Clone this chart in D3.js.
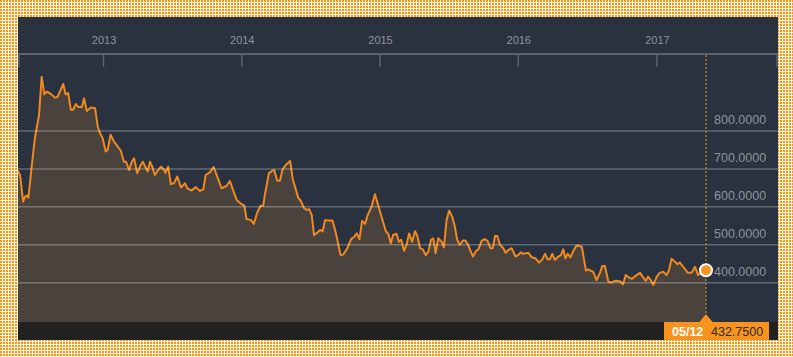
<!DOCTYPE html>
<html><head><meta charset="utf-8">
<script src="https://cdn.jsdelivr.net/npm/d3@7"></script>
<style>html,body{margin:0;padding:0;background:#fff;}svg{display:block;}</style>
</head><body><svg id="c" width="793" height="357"></svg>
<script>
const dates = ["2012-05-21","2012-05-27","2012-06-04","2012-06-09","2012-06-13","2012-06-18","2012-06-27","2012-07-05","2012-07-16","2012-07-23","2012-07-30","2012-08-06","2012-08-17","2012-08-27","2012-09-03","2012-09-18","2012-09-24","2012-10-01","2012-10-08","2012-10-14","2012-10-21","2012-10-28","2012-11-06","2012-11-12","2012-11-19","2012-11-30","2012-12-11","2012-12-18","2012-12-24","2012-12-31",
"2013-01-08","2013-01-13","2013-01-21","2013-01-30","2013-02-09","2013-02-17","2013-02-25","2013-03-03","2013-03-11","2013-03-18","2013-03-24","2013-04-01","2013-04-11","2013-04-16","2013-04-24","2013-04-29","2013-05-05","2013-05-11","2013-05-18","2013-05-25","2013-06-03","2013-06-10","2013-06-15","2013-06-22","2013-06-29","2013-07-07","2013-07-16","2013-07-26","2013-08-05","2013-08-12","2013-08-23","2013-09-03","2013-09-14","2013-09-23","2013-09-29","2013-10-10","2013-10-20","2013-10-28","2013-11-10","2013-11-23","2013-12-02","2013-12-11","2013-12-20",
"2014-01-02","2014-01-09","2014-01-15","2014-01-27","2014-02-03","2014-02-13","2014-02-21","2014-02-28","2014-03-05","2014-03-15","2014-03-22","2014-03-29","2014-04-06","2014-04-13","2014-04-20","2014-04-29","2014-05-10","2014-05-17","2014-05-25","2014-05-31","2014-06-07","2014-06-16","2014-06-23","2014-06-29","2014-07-06","2014-07-12","2014-07-21","2014-07-28","2014-08-04","2014-08-10","2014-08-19","2014-08-30","2014-09-08","2014-09-20","2014-09-27","2014-10-08","2014-10-18","2014-10-26","2014-11-02","2014-11-09","2014-11-16","2014-11-24","2014-11-30","2014-12-11","2014-12-20","2014-12-29",
"2015-01-07","2015-01-18","2015-01-24","2015-01-31","2015-02-06","2015-02-15","2015-02-21","2015-02-27","2015-03-07","2015-03-14","2015-03-20","2015-03-28","2015-04-05","2015-04-11","2015-04-18","2015-04-25","2015-05-03","2015-05-10","2015-05-17","2015-05-23","2015-05-29","2015-06-05","2015-06-14","2015-06-20","2015-06-27","2015-07-04","2015-07-12","2015-07-19","2015-07-25","2015-08-01","2015-08-09","2015-08-16","2015-08-23","2015-08-30","2015-09-05","2015-09-13","2015-09-19","2015-09-28","2015-10-06","2015-10-13","2015-10-21","2015-10-27","2015-11-02","2015-11-08","2015-11-15","2015-11-24","2015-11-30","2015-12-07","2015-12-16","2015-12-26",
"2016-01-02","2016-01-09","2016-01-15","2016-01-29","2016-02-07","2016-02-17","2016-02-26","2016-03-06","2016-03-13","2016-03-20","2016-03-26","2016-04-01","2016-04-08","2016-04-17","2016-04-24","2016-04-30","2016-05-06","2016-05-12","2016-05-19","2016-05-26","2016-06-04","2016-06-18","2016-06-29","2016-07-05","2016-07-12","2016-07-18","2016-07-27","2016-08-05","2016-08-11","2016-08-18","2016-08-27","2016-09-03","2016-09-14","2016-09-27","2016-10-05","2016-10-12","2016-10-20","2016-10-28","2016-11-07","2016-11-19","2016-11-27","2016-12-04","2016-12-10","2016-12-17","2016-12-24",
"2017-01-02","2017-01-10","2017-01-19","2017-01-28","2017-02-03","2017-02-10","2017-02-19","2017-02-26","2017-03-04","2017-03-13","2017-03-25","2017-04-04","2017-04-13","2017-04-21","2017-04-30","2017-05-12"];

const values = [695,684,614,627,630,624,710,781,842,943,897,904,897,888,890,924,897,900,856,856,871,863,863,886,853,862,860,812,794,781,
746,750,790,772,759,748,719,719,697,719,728,689,711,719,703,693,719,706,684,695,706,699,690,706,660,662,680,651,662,649,643,652,642,647,684,691,705,684,649,655,668,642,618,
607,603,568,565,555,587,603,603,636,689,694,697,669,669,699,711,721,673,646,625,616,596,592,594,579,526,532,539,535,565,564,564,530,473,474,491,515,521,530,515,563,555,576,601,633,602,
572,535,529,504,526,529,508,513,484,502,530,508,536,523,491,488,473,482,513,517,478,517,508,493,565,590,574,548,513,500,511,511,500,482,469,484,488,511,515,510,491,491,523,523,500,491,479,486,491,469,
473,480,476,479,467,464,453,462,476,462,462,476,460,469,473,488,464,476,467,482,498,495,432,435,431,429,407,426,444,444,403,400,405,404,396,420,414,410,418,426,414,405,416,407,394,
416,426,429,420,432,463,455,449,453,442,426,426,442,420,429,432.75];

const yTicks = [400, 500, 600, 700, 800];
const xDomain = ["2012-05-12", "2017-05-12"];

const parse = d3.utcParse("%Y-%m-%d");
const data = dates.map((d, i) => ({date: parse(d), value: values[i]}));

const svg = d3.select("#c");
const W = 793, H = 357;
const P = {l: 18, r: 778, t: 17, b: 340};
const axisY = 54, plotBottom = 322;

// background dotted pattern
const defs = svg.append("defs");
const pat = defs.append("pattern").attr("id", "dots").attr("width", 3).attr("height", 3).attr("patternUnits", "userSpaceOnUse");
pat.append("rect").attr("width", 3).attr("height", 3).attr("fill", "#fff6dc");
pat.append("rect").attr("width", 2).attr("height", 2).attr("fill", "#f7961f");
svg.append("rect").attr("width", W).attr("height", H).attr("fill", "url(#dots)");

defs.append("clipPath").attr("id", "clip").append("rect")
  .attr("x", P.l).attr("y", axisY).attr("width", P.r - P.l).attr("height", plotBottom - axisY);

// panel
svg.append("rect").attr("x", P.l).attr("y", P.t).attr("width", P.r - P.l).attr("height", P.b - P.t).attr("fill", "#29323e");
svg.append("rect").attr("x", P.l).attr("y", plotBottom).attr("width", P.r - P.l).attr("height", P.b - plotBottom).attr("fill", "#222222");

const x = d3.scaleUtc().domain(xDomain.map(parse)).range([14.4, 706]);
const y = d3.scaleLinear().domain([400, 800]).range([282.7, 131]);

const g = svg.append("g").attr("clip-path", "url(#clip)");
const area = d3.area().x(d => x(d.date)).y0(plotBottom).y1(d => y(d.value));
const line = d3.line().x(d => x(d.date)).y(d => y(d.value));

g.append("path").datum(data).attr("d", area).attr("fill", "#4a433d");

// gridlines
svg.append("g").selectAll("line").data(yTicks).join("line")
  .attr("x1", P.l).attr("x2", P.r).attr("y1", d => y(d)).attr("y2", d => y(d))
  .attr("stroke", "rgba(255,255,255,0.27)").attr("stroke-width", 1.5);

g.append("path").datum(data).attr("d", line).attr("fill", "none")
  .attr("stroke", "#f0891f").attr("stroke-width", 2).attr("stroke-linejoin", "round");

// y labels
svg.append("g").selectAll("text").data(yTicks).join("text")
  .attr("x", 714).attr("y", d => y(d) - 7)
  .attr("fill", "#8d949c").attr("font-family", "Liberation Sans, Arial, sans-serif").attr("font-size", 12.5)
  .text(d => d3.format(".4f")(d));

// top axis
const xAxis = d3.axisBottom(x).ticks(d3.utcYear.every(1)).tickSize(13).tickSizeOuter(0).tickFormat("");
const ax = svg.append("g").attr("transform", `translate(0,${axisY})`).call(xAxis);
ax.select(".domain").remove();
ax.selectAll(".tick line").attr("stroke", "#59616b").attr("stroke-width", 1.5);
svg.append("line").attr("x1", P.l).attr("x2", P.r).attr("y1", axisY).attr("y2", axisY).attr("stroke", "#727477").attr("stroke-width", 1.5);
svg.selectAll(".edge").data([P.l + 1, P.r - 1]).join("line").attr("class", "edge")
  .attr("x1", d => d).attr("x2", d => d).attr("y1", axisY).attr("y2", axisY + 13)
  .attr("stroke", "#59616b").attr("stroke-width", 1.5);
svg.append("g").selectAll("text").data(x.ticks(d3.utcYear.every(1))).join("text")
  .attr("x", d => x(d) + 1).attr("y", 44).attr("text-anchor", "middle")
  .attr("fill", "#8d949c").attr("font-family", "Liberation Sans, Arial, sans-serif").attr("font-size", 11)
  .text(d3.utcFormat("%Y"));

// current marker
const last = data[data.length - 1];
const lx = x(last.date), ly = y(last.value);
svg.append("line").attr("x1", lx).attr("x2", lx).attr("y1", axisY + 1).attr("y2", 316)
  .attr("stroke", "#a07a30").attr("stroke-width", 1.5).attr("stroke-dasharray", "2,2");
svg.append("circle").attr("cx", lx).attr("cy", ly).attr("r", 6).attr("fill", "#f7931e").attr("stroke", "#fff").attr("stroke-width", 2);

// bottom label
svg.append("rect").attr("x", 664).attr("y", plotBottom).attr("width", 105).attr("height", P.b - plotBottom).attr("fill", "#f7931e");
svg.append("path").attr("d", `M${lx - 7},${plotBottom + 0.5}L${lx},${plotBottom - 8}L${lx + 7},${plotBottom + 0.5}Z`).attr("fill", "#f7931e");
svg.append("text").attr("x", 672).attr("y", 335.5).attr("fill", "#fff").attr("font-weight", "bold")
  .attr("font-family", "Liberation Sans, Arial, sans-serif").attr("font-size", 12.5).text(d3.utcFormat("%m/%d")(last.date));
svg.append("text").attr("x", 711).attr("y", 335.5).attr("fill", "#2b2b2b")
  .attr("font-family", "Liberation Sans, Arial, sans-serif").attr("font-size", 12.5).text(d3.format(".4f")(last.value));
</script></body></html>
